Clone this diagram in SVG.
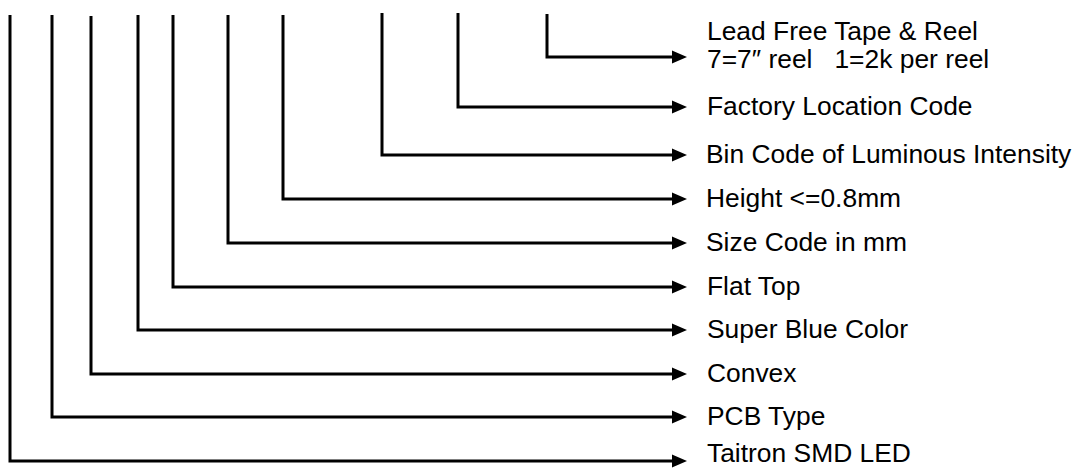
<svg xmlns="http://www.w3.org/2000/svg" width="1079" height="468" viewBox="0 0 1079 468">
<style>
.c{fill:none;stroke:#000;stroke-width:3;stroke-linejoin:miter;marker-end:url(#ah)}
.t{font-family:"Liberation Sans",Arial,sans-serif;font-size:26.4px;fill:#000;white-space:pre}
</style>
<defs>
<marker id="ah" markerUnits="userSpaceOnUse" markerWidth="16" markerHeight="14" refX="1" refY="7" orient="auto">
<path d="M0,0.5 L15,7 L0,13.5 Z" fill="#000"/>
</marker>
</defs>
<rect width="1079" height="468" fill="#fff"/>
<g id="connectors">
<path class="c" d="M547,14 V57 H673"/>
<path class="c" d="M458,13 V107 H673"/>
<path class="c" d="M382,13 V155 H673"/>
<path class="c" d="M283,15 V199 H673"/>
<path class="c" d="M228,15 V243 H673"/>
<path class="c" d="M173,15 V287 H673"/>
<path class="c" d="M138,15 V330 H673"/>
<path class="c" d="M91,16 V374 H673"/>
<path class="c" d="M52,15 V417 H673"/>
<path class="c" d="M10,15 V461 H673"/>
</g>
<g id="n-leadfree"><text class="t" x="707" y="40">Lead Free Tape &amp; Reel</text><text class="t" x="707" y="68">7=7″ reel   1=2k per reel</text></g>
<g id="n-factory"><text class="t" x="707" y="115">Factory Location Code</text></g>
<g id="n-bin"><text class="t" x="706" y="163">Bin Code of Luminous Intensity</text></g>
<g id="n-height"><text class="t" x="706" y="207">Height &lt;=0.8mm</text></g>
<g id="n-size"><text class="t" x="706" y="251">Size Code in mm</text></g>
<g id="n-flattop"><text class="t" x="707" y="295">Flat Top</text></g>
<g id="n-superblue"><text class="t" x="707" y="338">Super Blue Color</text></g>
<g id="n-convex"><text class="t" x="707" y="382">Convex</text></g>
<g id="n-pcb"><text class="t" x="707" y="425">PCB Type</text></g>
<g id="n-taitron"><text class="t" x="707" y="462">Taitron SMD LED</text></g>
</svg>
